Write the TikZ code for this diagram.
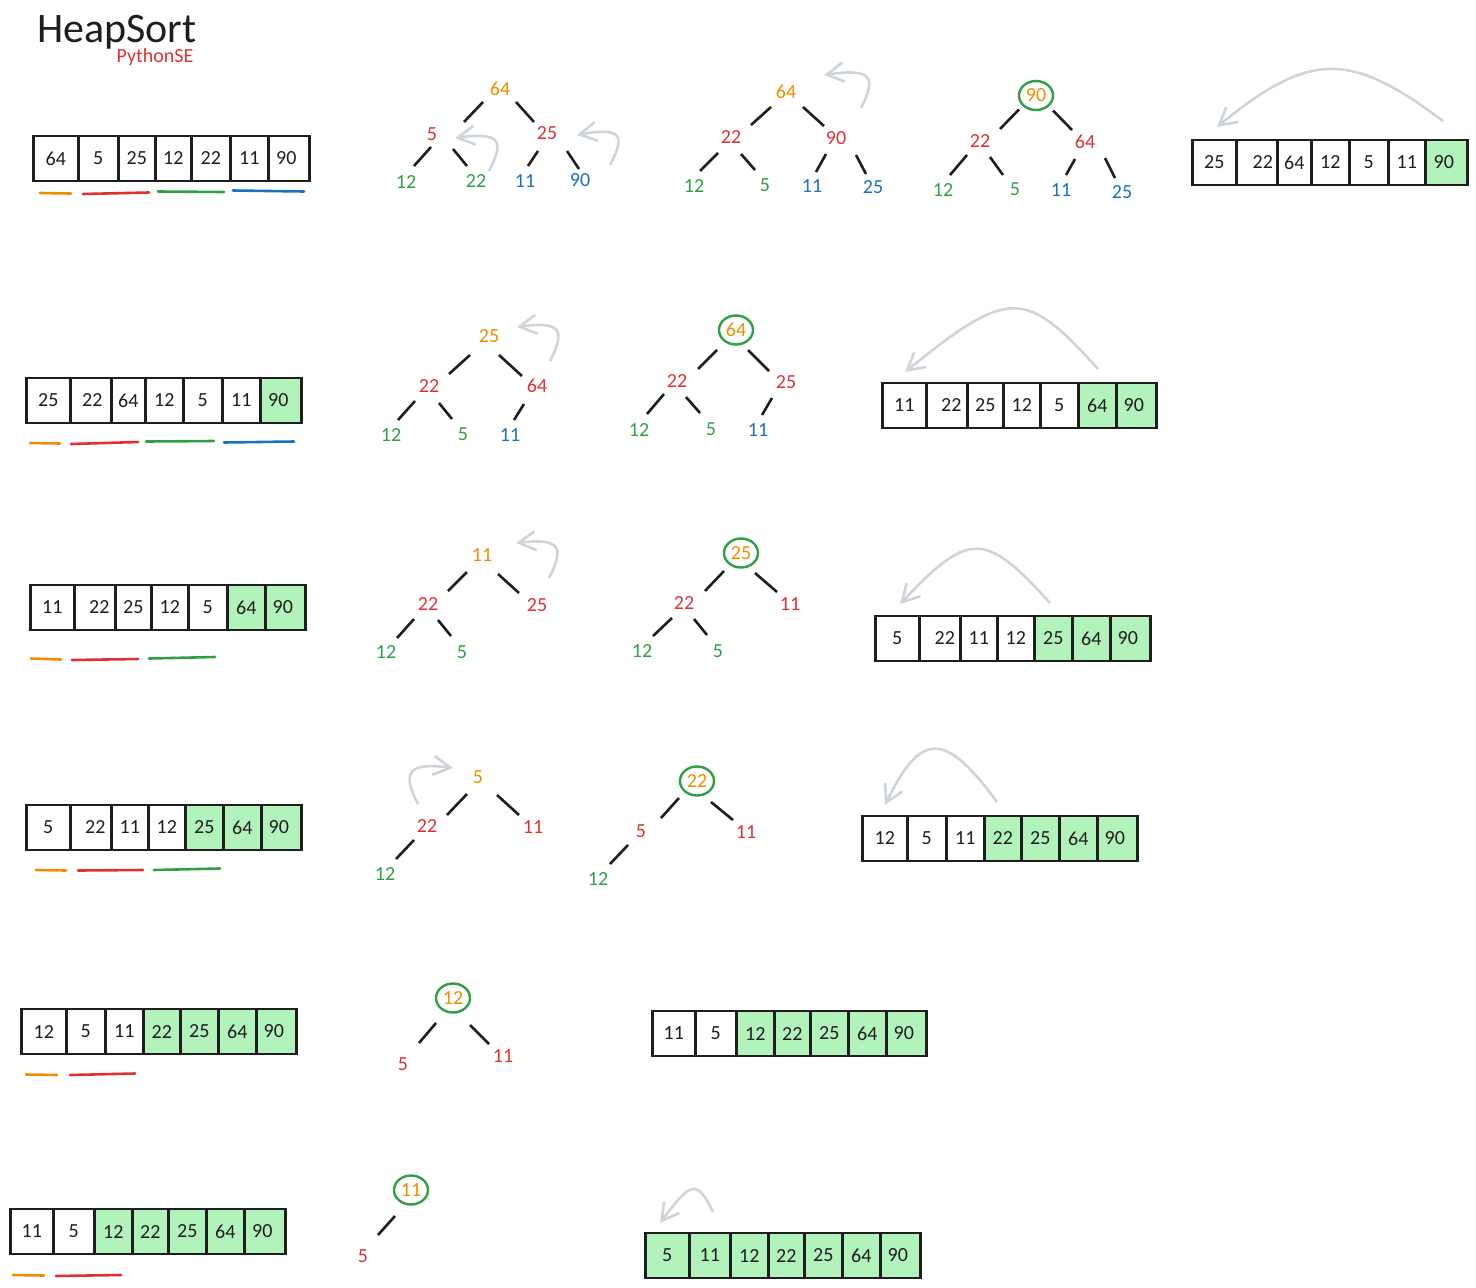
\documentclass[tikz,border=0pt]{standalone}
\usepackage{fontspec}
\setmainfont{Carlito}
\usetikzlibrary{arrows.meta,shapes.geometric}
\definecolor{hblack}{HTML}{1E1E1E}
\definecolor{horange}{HTML}{F08C00}
\definecolor{hred}{HTML}{E03131}
\definecolor{hgreen}{HTML}{2F9E44}
\definecolor{hblue}{HTML}{1971C2}
\definecolor{hdone}{HTML}{B2F2BB}
\definecolor{hgrey}{HTML}{CED4DA}
\tikzset{
  cell/.style={draw=hblack,line width=2.6pt,fill=white,text=hblack,anchor=west,inner sep=0pt,
    xshift=-1pt,minimum height=45,minimum width=#1,font=\fontsize{20}{22}\selectfont},
  donecell/.style={cell=#1,fill=hdone},
  heapnode/.style={inner sep=1pt,font=\fontsize{20}{22}\selectfont},
  rootnode/.style={heapnode,ellipse,draw=hgreen,line width=2.4pt,text=horange,inner sep=0pt,
    minimum width=34,minimum height=29},
  treeedge/.style={draw=hblack,line width=2.6pt},
  swaparrow/.style={draw=hgrey,line width=2.6pt,-{Straight Barb[length=17pt,width=19pt]}},
  heapspan/.style={line width=2.6pt,line cap=round},
}
\begin{document}
\begin{tikzpicture}[x=1pt,y=-1pt]
  \useasboundingbox (0,0) rectangle (1476,1288);
  \node[text=hblack,font=\fontsize{42}{44}\selectfont] (title) at (117,32) {HeapSort};
  \node[text=hred,font=\fontsize{20}{22}\selectfont] (subtitle) at (155,57) {PythonSE};
  % row 1
  \draw
    (33,158.5) node[cell=45] (a1c0){64}
    (78,158.5) node[cell=40] (a1c1){5}
    (118,158.5) node[cell=37] (a1c2){25}
    (155,158.5) node[cell=36] (a1c3){12}
    (191,158.5) node[cell=39] (a1c4){22}
    (230,158.5) node[cell=38] (a1c5){11}
    (268,158.5) node[cell=41] (a1c6){\kern-5pt 90};
  \draw[heapspan,horange] (40,193) -- (71,193.5);
  \draw[heapspan,hred] (83,194) -- (149,192.5);
  \draw[heapspan,hgreen] (158,191.5) -- (224,192);
  \draw[heapspan,hblue] (233,190.5) -- (304,191.5);
  \draw
    (500,89) node[heapnode,text=horange] (t1n0){64}
    (432,134) node[heapnode,text=hred] (t1n1){5}
    (547,133) node[heapnode,text=hred] (t1n2){25}
    (406,182) node[heapnode,text=hgreen] (t1n3){12}
    (476,181) node[heapnode,text=hgreen] (t1n4){22}
    (525,181) node[heapnode,text=hblue] (t1n5){11}
    (580,180) node[heapnode,text=hblue] (t1n6){90};
  \draw[treeedge] ([shift={(-17,13)}]t1n0.center) -- ([shift={(32,-12)}]t1n1.center);
  \draw[treeedge] ([shift={(16,13)}]t1n0.center) -- ([shift={(-13,-11)}]t1n2.center);
  \draw[treeedge] ([shift={(-1,13)}]t1n1.center) -- ([shift={(8,-16)}]t1n3.center);
  \draw[treeedge] ([shift={(21,15)}]t1n1.center) -- ([shift={(-9,-15)}]t1n4.center);
  \draw[treeedge] ([shift={(-9,18)}]t1n2.center) -- ([shift={(3,-15)}]t1n5.center);
  \draw[treeedge] ([shift={(20,18)}]t1n2.center) -- ([shift={(-1,-11)}]t1n6.center);
  \coordinate (s1a) at (489,171);
  \coordinate (s1b) at (455,138);
  \draw[swaparrow] (s1a) .. controls (505,140) and (500,132) .. (s1b);
  \coordinate (s2a) at (610,165);
  \coordinate (s2b) at (577,135);
  \draw[swaparrow] (s2a) .. controls (626,135) and (621,127) .. (s2b);
  \draw
    (786,92) node[heapnode,text=horange] (t2n0){64}
    (731,137) node[heapnode,text=hred] (t2n1){22}
    (836,138) node[heapnode,text=hred] (t2n2){90}
    (694,186) node[heapnode,text=hgreen] (t2n3){12}
    (765,185) node[heapnode,text=hgreen] (t2n4){5}
    (812,186) node[heapnode,text=hblue] (t2n5){11}
    (873,187) node[heapnode,text=hblue] (t2n6){25};
  \draw[treeedge] ([shift={(-15,15)}]t2n0.center) -- ([shift={(20,-12)}]t2n1.center);
  \draw[treeedge] ([shift={(17,15)}]t2n0.center) -- ([shift={(-12,-12)}]t2n2.center);
  \draw[treeedge] ([shift={(-13,16)}]t2n1.center) -- ([shift={(6,-15)}]t2n3.center);
  \draw[treeedge] ([shift={(10,17)}]t2n1.center) -- ([shift={(-10,-15)}]t2n4.center);
  \draw[treeedge] ([shift={(-10,16)}]t2n2.center) -- ([shift={(4,-14)}]t2n5.center);
  \draw[treeedge] ([shift={(20,17)}]t2n2.center) -- ([shift={(-7,-13)}]t2n6.center);
  \coordinate (s3a) at (861,108);
  \coordinate (s3b) at (824,75);
  \draw[swaparrow] (s3a) .. controls (877,77) and (872,68) .. (s3b);
  \draw
    (1036,95.5) node[rootnode] (t3n0){90}
    (980,141) node[heapnode,text=hred] (t3n1){22}
    (1085,142) node[heapnode,text=hred] (t3n2){64}
    (943,190) node[heapnode,text=hgreen] (t3n3){12}
    (1015,189) node[heapnode,text=hgreen] (t3n4){5}
    (1061,190) node[heapnode,text=hblue] (t3n5){11}
    (1122,192) node[heapnode,text=hblue] (t3n6){25};
  \draw[treeedge] ([shift={(-17,14)}]t3n0.center) -- ([shift={(20,-12)}]t3n1.center);
  \draw[treeedge] ([shift={(17,15)}]t3n0.center) -- ([shift={(-13,-12)}]t3n2.center);
  \draw[treeedge] ([shift={(-13,14)}]t3n1.center) -- ([shift={(7,-15)}]t3n3.center);
  \draw[treeedge] ([shift={(10,16)}]t3n1.center) -- ([shift={(-12,-14)}]t3n4.center);
  \draw[treeedge] ([shift={(-10,17)}]t3n2.center) -- ([shift={(5,-15)}]t3n5.center);
  \draw[treeedge] ([shift={(20,16)}]t3n2.center) -- ([shift={(-7,-14)}]t3n6.center);
  \coordinate (s4a) at (1443,121);
  \coordinate (s4b) at (1217,127);
  \draw[swaparrow] (s4a) .. controls (1350,51) and (1310,51) .. (s4b);
  \draw
    (1192,162.5) node[cell=44] (a2c0){25}
    (1236,162.5) node[cell=41] (a2c1){\kern12pt 22}
    (1277,162.5) node[cell=34] (a2c2){64}
    (1311,162.5) node[cell=38] (a2c3){12}
    (1349,162.5) node[cell=39] (a2c4){5}
    (1388,162.5) node[cell=37] (a2c5){11}
    (1425,162.5) node[donecell=42] (a2c6){\kern-5pt 90};
  % row 2
  \draw
    (26,400.5) node[cell=44] (a3c0){25}
    (70,400.5) node[cell=41] (a3c1){\kern3pt 22}
    (111,400.5) node[cell=34] (a3c2){64}
    (145,400.5) node[cell=38] (a3c3){12}
    (183,400.5) node[cell=39] (a3c4){5}
    (222,400.5) node[cell=38] (a3c5){11}
    (260,400.5) node[donecell=41] (a3c6){\kern-5pt 90};
  \draw[heapspan,horange] (30,443) -- (60,443.5);
  \draw[heapspan,hred] (71,444) -- (138,442);
  \draw[heapspan,hgreen] (146,441.5) -- (214,441);
  \draw[heapspan,hblue] (224,442.5) -- (294,441.5);
  \draw
    (489,336) node[heapnode,text=horange] (t4n0){25}
    (429,386) node[heapnode,text=hred] (t4n1){22}
    (537,386) node[heapnode,text=hred] (t4n2){64}
    (391,435) node[heapnode,text=hgreen] (t4n3){12}
    (463,434) node[heapnode,text=hgreen] (t4n4){5}
    (510,435) node[heapnode,text=hblue] (t4n5){11};
  \draw[treeedge] ([shift={(-19,19)}]t4n0.center) -- ([shift={(20,-12)}]t4n1.center);
  \draw[treeedge] ([shift={(10,19)}]t4n0.center) -- ([shift={(-15,-10)}]t4n2.center);
  \draw[treeedge] ([shift={(-14,15)}]t4n1.center) -- ([shift={(7,-15)}]t4n3.center);
  \draw[treeedge] ([shift={(10,17)}]t4n1.center) -- ([shift={(-11,-15)}]t4n4.center);
  \draw[treeedge] ([shift={(-13,18)}]t4n2.center) -- ([shift={(4,-15)}]t4n5.center);
  \coordinate (s5a) at (550,361);
  \coordinate (s5b) at (517,327);
  \draw[swaparrow] (s5a) .. controls (566,330) and (561,321) .. (s5b);
  \draw
    (736,330) node[rootnode] (t5n0){64}
    (677,381) node[heapnode,text=hred] (t5n1){22}
    (786,382) node[heapnode,text=hred] (t5n2){25}
    (639,430) node[heapnode,text=hgreen] (t5n3){12}
    (711,429) node[heapnode,text=hgreen] (t5n4){5}
    (758,430) node[heapnode,text=hblue] (t5n5){11};
  \draw[treeedge] ([shift={(-19,20)}]t5n0.center) -- ([shift={(21,-12)}]t5n1.center);
  \draw[treeedge] ([shift={(12,20)}]t5n0.center) -- ([shift={(-17,-11)}]t5n2.center);
  \draw[treeedge] ([shift={(-13,13)}]t5n1.center) -- ([shift={(8,-16)}]t5n3.center);
  \draw[treeedge] ([shift={(9,16)}]t5n1.center) -- ([shift={(-11,-16)}]t5n4.center);
  \draw[treeedge] ([shift={(-14,16)}]t5n2.center) -- ([shift={(4,-15)}]t5n5.center);
  \coordinate (s6a) at (1098,369);
  \coordinate (s6b) at (905,372);
  \draw[swaparrow] (s6a) .. controls (1025,288) and (1009,288) .. (s6b);
  \draw
    (882,405.5) node[cell=44] (a4c0){11}
    (926,405.5) node[cell=41] (a4c1){\kern9pt 22}
    (967,405.5) node[cell=36] (a4c2){25}
    (1003,405.5) node[cell=37] (a4c3){12}
    (1040,405.5) node[cell=38] (a4c4){5}
    (1078,405.5) node[donecell=38] (a4c5){64}
    (1116,405.5) node[donecell=40] (a4c6){\kern-5pt 90};
  % row 3
  \draw
    (30,607.5) node[cell=44] (a5c0){11}
    (74,607.5) node[cell=41] (a5c1){\kern9pt 22}
    (115,607.5) node[cell=36] (a5c2){25}
    (151,607.5) node[cell=37] (a5c3){12}
    (188,607.5) node[cell=39] (a5c4){5}
    (227,607.5) node[donecell=38] (a5c5){64}
    (265,607.5) node[donecell=40] (a5c6){\kern-5pt 90};
  \draw[heapspan,horange] (31,658.5) -- (61,659.5);
  \draw[heapspan,hred] (72,660) -- (138,659);
  \draw[heapspan,hgreen] (149,658.5) -- (215,657);
  \draw
    (482,555) node[heapnode,text=horange] (t6n0){11}
    (428,604) node[heapnode,text=hred] (t6n1){22}
    (537,605) node[heapnode,text=hred] (t6n2){25}
    (386,652) node[heapnode,text=hgreen] (t6n3){12}
    (462,652) node[heapnode,text=hgreen] (t6n4){5};
  \draw[treeedge] ([shift={(-15,17)}]t6n0.center) -- ([shift={(20,-13)}]t6n1.center);
  \draw[treeedge] ([shift={(16,19)}]t6n0.center) -- ([shift={(-18,-12)}]t6n2.center);
  \draw[treeedge] ([shift={(-14,15)}]t6n1.center) -- ([shift={(11,-14)}]t6n3.center);
  \draw[treeedge] ([shift={(10,16)}]t6n1.center) -- ([shift={(-11,-16)}]t6n4.center);
  \coordinate (s7a) at (549,578);
  \coordinate (s7b) at (516,543);
  \draw[swaparrow] (s7a) .. controls (565,547) and (560,538) .. (s7b);
  \draw
    (741,553) node[rootnode] (t7n0){25}
    (684,603) node[heapnode,text=hred] (t7n1){22}
    (790,604) node[heapnode,text=hred] (t7n2){11}
    (642,651) node[heapnode,text=hgreen] (t7n3){12}
    (718,651) node[heapnode,text=hgreen] (t7n4){5};
  \draw[treeedge] ([shift={(-17,18)}]t7n0.center) -- ([shift={(21,-12)}]t7n1.center);
  \draw[treeedge] ([shift={(14,20)}]t7n0.center) -- ([shift={(-13,-12)}]t7n2.center);
  \draw[treeedge] ([shift={(-12,15)}]t7n1.center) -- ([shift={(11,-15)}]t7n3.center);
  \draw[treeedge] ([shift={(10,16)}]t7n1.center) -- ([shift={(-11,-16)}]t7n4.center);
  \coordinate (s8a) at (1050,603);
  \coordinate (s8b) at (900,604);
  \draw[swaparrow] (s8a) .. controls (985,531) and (969,531) .. (s8b);
  \draw
    (875,638.5) node[cell=44] (a6c0){5}
    (919,638.5) node[cell=41] (a6c1){\kern10pt 22}
    (960,638.5) node[cell=37] (a6c2){11}
    (997,638.5) node[cell=37] (a6c3){12}
    (1034,638.5) node[donecell=38] (a6c4){25}
    (1072,638.5) node[donecell=38] (a6c5){64}
    (1110,638.5) node[donecell=40] (a6c6){\kern-5pt 90};
  % row 4
  \draw
    (26,827.5) node[cell=44] (a7c0){5}
    (70,827.5) node[cell=41] (a7c1){\kern9pt 22}
    (111,827.5) node[cell=37] (a7c2){11}
    (148,827.5) node[cell=37] (a7c3){12}
    (185,827.5) node[donecell=38] (a7c4){25}
    (223,827.5) node[donecell=38] (a7c5){64}
    (261,827.5) node[donecell=40] (a7c6){\kern-5pt 90};
  \draw[heapspan,horange] (36,870) -- (66,870.5);
  \draw[heapspan,hred] (78,870.5) -- (143,870);
  \draw[heapspan,hgreen] (154,870) -- (220,868.5);
  \draw
    (478,777) node[heapnode,text=horange] (t8n0){5}
    (427,826) node[heapnode,text=hred] (t8n1){22}
    (533,827) node[heapnode,text=hred] (t8n2){11}
    (385,874) node[heapnode,text=hgreen] (t8n3){12};
  \draw[treeedge] ([shift={(-11,17)}]t8n0.center) -- ([shift={(20,-11)}]t8n1.center);
  \draw[treeedge] ([shift={(19,18)}]t8n0.center) -- ([shift={(-14,-12)}]t8n2.center);
  \draw[treeedge] ([shift={(-13,14)}]t8n1.center) -- ([shift={(11,-15)}]t8n3.center);
  \coordinate (s9a) at (418,804);
  \coordinate (s9b) at (453,768);
  \draw[swaparrow] (s9a) .. controls (402,773) and (407,762) .. (s9b);
  \draw
    (697,781) node[rootnode] (t9n0){22}
    (641,831) node[heapnode,text=hred] (t9n1){5}
    (746,832) node[heapnode,text=hred] (t9n2){11}
    (598,879) node[heapnode,text=hgreen] (t9n3){12};
  \draw[treeedge] ([shift={(-18,17)}]t9n0.center) -- ([shift={(20,-13)}]t9n1.center);
  \draw[treeedge] ([shift={(14,21)}]t9n0.center) -- ([shift={(-13,-12)}]t9n2.center);
  \draw[treeedge] ([shift={(-13,14)}]t9n1.center) -- ([shift={(12,-15)}]t9n3.center);
  \coordinate (s10a) at (997,802);
  \coordinate (s10b) at (885,805);
  \draw[swaparrow] (s10a) .. controls (945,731) and (921,731) .. (s10b);
  \draw
    (862,838.5) node[cell=45] (a8c0){12}
    (907,838.5) node[cell=39] (a8c1){5}
    (946,838.5) node[cell=38] (a8c2){11}
    (984,838.5) node[donecell=37] (a8c3){22}
    (1021,838.5) node[donecell=38] (a8c4){25}
    (1059,838.5) node[donecell=38] (a8c5){64}
    (1097,838.5) node[donecell=40] (a8c6){\kern-5pt 90};
  % row 5
  \draw
    (21,1031.5) node[cell=45] (a9c0){12}
    (66,1031.5) node[cell=39] (a9c1){5}
    (105,1031.5) node[cell=38] (a9c2){11}
    (143,1031.5) node[donecell=37] (a9c3){22}
    (180,1031.5) node[donecell=38] (a9c4){25}
    (218,1031.5) node[donecell=38] (a9c5){64}
    (256,1031.5) node[donecell=40] (a9c6){\kern-5pt 90};
  \draw[heapspan,horange] (26,1074.5) -- (57,1075);
  \draw[heapspan,hred] (70,1075) -- (135,1073.5);
  \draw
    (453,998) node[rootnode] (t10n0){12}
    (403,1064) node[heapnode,text=hred] (t10n1){5}
    (503,1056) node[heapnode,text=hred] (t10n2){11};
  \draw[treeedge] ([shift={(-17,25)}]t10n0.center) -- ([shift={(16,-21)}]t10n1.center);
  \draw[treeedge] ([shift={(17,27)}]t10n0.center) -- ([shift={(-14,-12)}]t10n2.center);
  \draw
    (652,1033.5) node[cell=43] (a10c0){11}
    (695,1033.5) node[cell=41] (a10c1){5}
    (736,1033.5) node[donecell=38] (a10c2){12}
    (774,1033.5) node[donecell=36] (a10c3){22}
    (810,1033.5) node[donecell=38] (a10c4){25}
    (848,1033.5) node[donecell=38] (a10c5){64}
    (886,1033.5) node[donecell=40] (a10c6){\kern-5pt 90};
  % row 6
  \draw
    (10,1231.5) node[cell=43] (a11c0){11}
    (53,1231.5) node[cell=41] (a11c1){5}
    (94,1231.5) node[donecell=38] (a11c2){12}
    (132,1231.5) node[donecell=36] (a11c3){22}
    (168,1231.5) node[donecell=38] (a11c4){25}
    (206,1231.5) node[donecell=38] (a11c5){64}
    (244,1231.5) node[donecell=41] (a11c6){\kern-5pt 90};
  \draw[heapspan,horange] (13,1275) -- (44,1275.5);
  \draw[heapspan,hred] (56,1276) -- (121,1275);
  \draw
    (411,1190) node[rootnode] (t11n0){11}
    (363,1256) node[heapnode,text=hred] (t11n1){5};
  \draw[treeedge] ([shift={(-16,26)}]t11n0.center) -- ([shift={(15,-21)}]t11n1.center);
  \coordinate (s11a) at (713,1212);
  \coordinate (s11b) at (660,1223);
  \draw[swaparrow] (s11a) .. controls (697,1180) and (692,1180) .. (s11b);
  \draw
    (645,1255.5) node[donecell=44] (a12c0){5}
    (689,1255.5) node[donecell=41] (a12c1){11}
    (730,1255.5) node[donecell=38] (a12c2){12}
    (768,1255.5) node[donecell=36] (a12c3){22}
    (804,1255.5) node[donecell=38] (a12c4){25}
    (842,1255.5) node[donecell=38] (a12c5){64}
    (880,1255.5) node[donecell=40] (a12c6){\kern-5pt 90};
\end{tikzpicture}
\end{document}
